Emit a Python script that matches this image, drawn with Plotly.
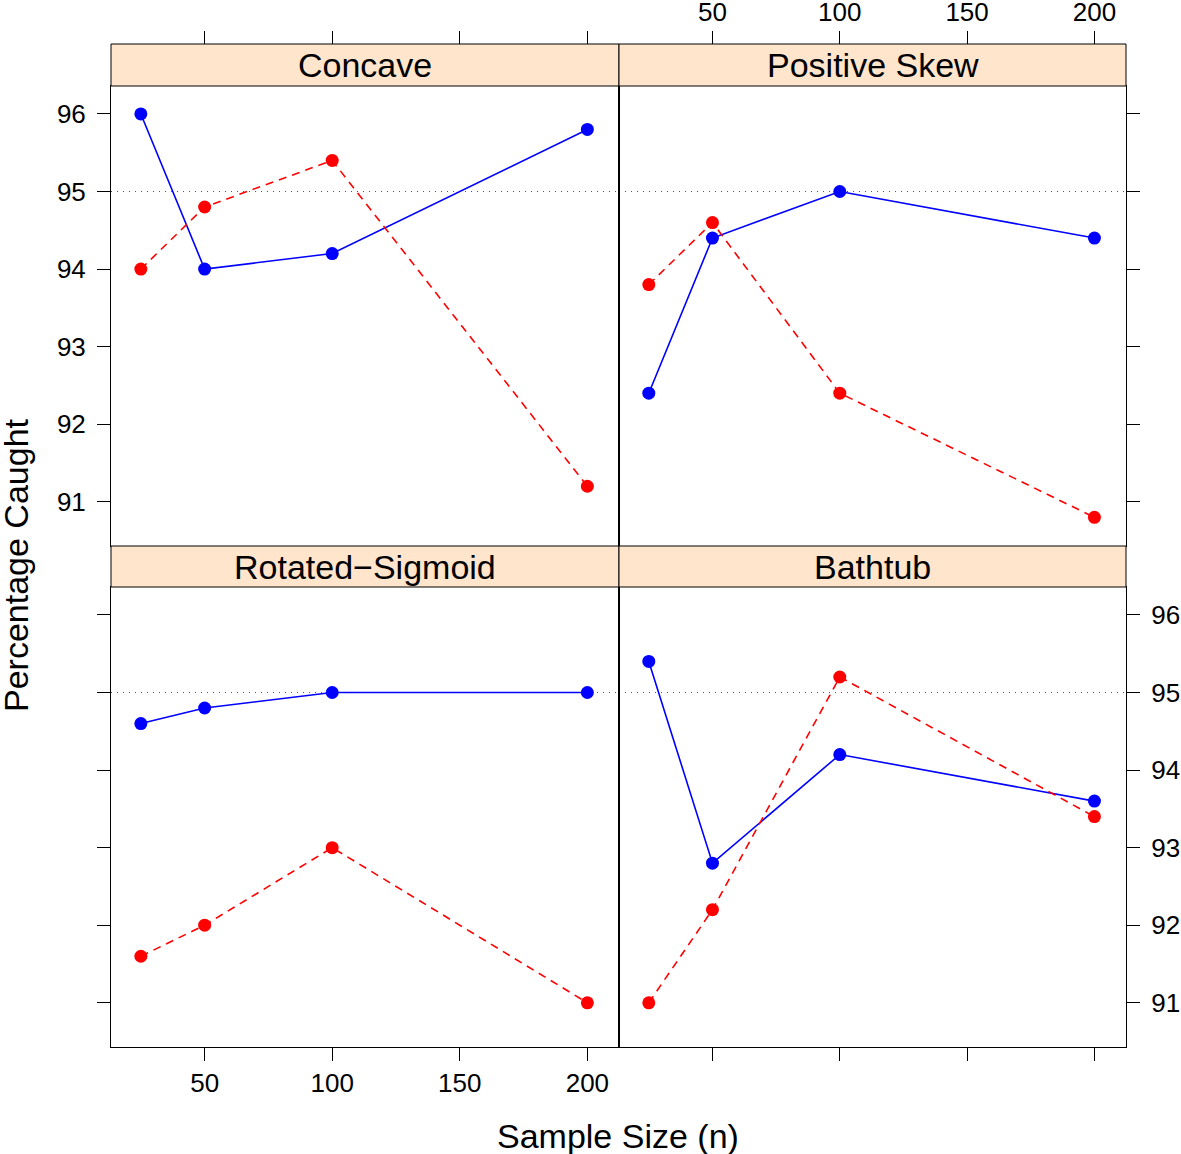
import plotly.graph_objects as go

# ---- data ----
n = [25, 50, 100, 200]
panels = ["Concave", "Positive Skew", "Rotated\u2212Sigmoid", "Bathtub"]
blue_vals = [
    [96.0, 94.0, 94.2, 95.8],   # Concave
    [92.4, 94.4, 95.0, 94.4],   # Positive Skew
    [94.6, 94.8, 95.0, 95.0],   # Rotated-Sigmoid
    [95.4, 92.8, 94.2, 93.6],   # Bathtub
]
red_vals = [
    [94.0, 94.8, 95.4, 91.2],
    [93.8, 94.6, 92.4, 90.8],
    [91.6, 92.0, 93.0, 91.0],
    [91.0, 92.2, 95.2, 93.4],
]
y_ticks = [91, 92, 93, 94, 95, 96]
x_ticks = [50, 100, 150, 200]
ref_level = 95

W, H = 1181, 1154
FONT = "Liberation Sans, Arial, Helvetica, sans-serif"
TICK_SIZE = 26

def px_x(p):
    return p / W

def px_y(p):
    return 1 - p / H

x_dom = [[px_x(111), px_x(619)], [px_x(619), px_x(1126)]]
y_dom = [[px_y(546), px_y(86)], [px_y(1047), px_y(587)]]
strip_px = [(44, 86), (546, 587)]

x_range = [13.3, 212.4]
y_range = [90.43, 96.36]

fig = go.Figure()

layout = dict(
    width=W, height=H,
    margin=dict(l=0, r=0, t=0, b=0, autoexpand=False),
    plot_bgcolor="white", paper_bgcolor="white",
    showlegend=False,
    font=dict(family=FONT, color="black", size=TICK_SIZE),
)

shapes = []
annotations = []

for i in range(4):
    row, col = divmod(i, 2)
    k = i + 1
    xa = "x" if k == 1 else f"x{k}"
    ya = "y" if k == 1 else f"y{k}"
    xname = "xaxis" if k == 1 else f"xaxis{k}"
    yname = "yaxis" if k == 1 else f"yaxis{k}"

    bottom_row = row == 1
    xax = dict(
        domain=x_dom[col], anchor=ya, range=x_range, automargin=False,
        showgrid=False, zeroline=False,
        showline=True, mirror=True, linecolor="black", linewidth=1,
        tickvals=x_ticks, ticks="outside" if bottom_row else "",
        ticklen=13, tickwidth=1, tickcolor="black",
        showticklabels=(bottom_row and col == 0),
        tickfont=dict(size=TICK_SIZE), ticklabelstandoff=0,
        side="bottom",
    )
    yax = dict(
        domain=y_dom[row], anchor=xa, range=y_range, automargin=False,
        showgrid=False, zeroline=False,
        showline=True, mirror=True, linecolor="black", linewidth=1,
        tickvals=y_ticks, ticks="outside",
        ticklen=13, tickwidth=1, tickcolor="black",
        side="left" if col == 0 else "right",
        showticklabels=(row == 0 and col == 0) or (row == 1 and col == 1),
        tickfont=dict(size=TICK_SIZE), ticklabelstandoff=6,
    )
    layout[xname] = xax
    layout[yname] = yax

    fig.add_trace(go.Scatter(
        x=n, y=blue_vals[i], xaxis=xa, yaxis=ya, mode="lines+markers",
        line=dict(color="#0000FF", width=1.6),
        marker=dict(color="#0000FF", size=13),
    ))
    fig.add_trace(go.Scatter(
        x=n, y=red_vals[i], xaxis=xa, yaxis=ya, mode="lines+markers",
        line=dict(color="#FF0000", width=1.6, dash="8px,6px"),
        marker=dict(color="#FF0000", size=13),
    ))

    # reference line
    shapes.append(dict(
        type="line", xref=f"{xa} domain", yref=ya,
        x0=0, x1=1, y0=ref_level, y1=ref_level,
        line=dict(color="#555555", width=1.2, dash="1px,5px"),
        layer="below",
    ))

    # strip
    s0, s1 = strip_px[row]
    shapes.append(dict(
        type="rect", xref="paper", yref="paper",
        x0=x_dom[col][0], x1=x_dom[col][1], y0=px_y(s1), y1=px_y(s0),
        fillcolor="#FFE5CC", line=dict(color="black", width=1),
        layer="above",
    ))
    annotations.append(dict(
        text=panels[i], xref="paper", yref="paper",
        x=(x_dom[col][0] + x_dom[col][1]) / 2, y=px_y((s0 + s1) / 2),
        xanchor="center", yanchor="middle", showarrow=False,
        font=dict(size=34, family=FONT, color="black"),
    ))

# top tick axes above strips (overlaying the top-row x axes)
for col, (base, new) in enumerate([("x", 5), ("x2", 6)]):
    base_y = "y" if col == 0 else "y2"
    layout[f"xaxis{new}"] = dict(
        overlaying=base, anchor="free", position=px_y(44), side="top",
        range=x_range, domain=x_dom[col], automargin=False,
        showgrid=False, zeroline=False, showline=False,
        tickvals=x_ticks, ticks="outside", ticklen=13, tickwidth=1,
        tickcolor="black", showticklabels=(col == 1),
        tickfont=dict(size=TICK_SIZE), ticklabelstandoff=0,
    )
    fig.add_trace(go.Scatter(
        x=[None], y=[None], xaxis=f"x{new}", yaxis=base_y,
        mode="markers", hoverinfo="skip", showlegend=False,
    ))

# axis titles
annotations.append(dict(
    text="Percentage Caught", xref="paper", yref="paper",
    x=px_x(16), y=px_y(565), textangle=-90,
    xanchor="center", yanchor="middle", showarrow=False,
    font=dict(size=34, family=FONT, color="black"),
))
annotations.append(dict(
    text="Sample Size (n)", xref="paper", yref="paper",
    x=px_x(618), y=px_y(1136),
    xanchor="center", yanchor="middle", showarrow=False,
    font=dict(size=34, family=FONT, color="black"),
))

layout["shapes"] = shapes
layout["annotations"] = annotations
fig.update_layout(**layout)

fig.write_html(
    "out.html",
    config={"displayModeBar": False},
    post_script="document.body.style.margin='0';document.body.style.overflow='hidden';",
)
